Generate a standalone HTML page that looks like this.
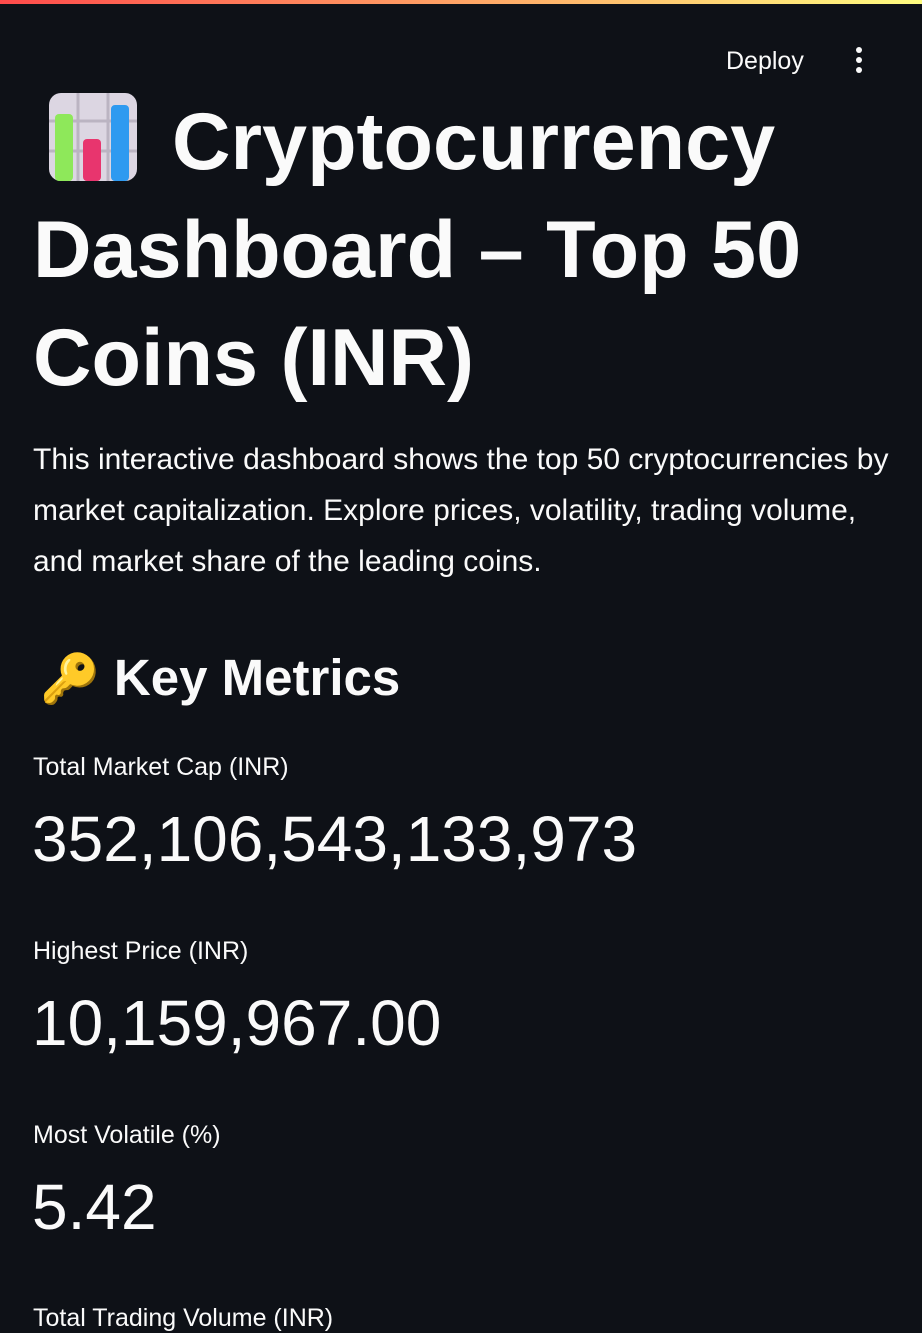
<!DOCTYPE html>
<html><head><meta charset="utf-8"><style>
body{margin:0;width:922px;height:1310px;overflow:hidden;background:#0e1117;color:#fafafa;font-family:"Liberation Sans",sans-serif;position:relative}
.a{position:absolute;white-space:nowrap}
</style></head><body>
<div class="a" style="left:0;top:0;width:922px;height:4px;background:linear-gradient(90deg,#ff4b4b,#fffd80)"></div>
<div class="a" style="left:726px;top:47px;font-size:25px;">Deploy</div>
<div class="a" style="left:856px;top:47px;width:8px;">
<div style="width:6px;height:6px;border-radius:50%;background:#fafafa;margin:0 0 4px"></div>
<div style="width:6px;height:6px;border-radius:50%;background:#fafafa;margin:0 0 4px"></div>
<div style="width:6px;height:6px;border-radius:50%;background:#fafafa"></div></div>
<svg class="a" style="left:49px;top:93px" width="88" height="88" viewBox="0 0 88 88">
<rect x="0" y="0" width="88" height="88" rx="12" fill="#dcd6e2"/>
<line x1="0" y1="28" x2="88" y2="28" stroke="#bbb4c2" stroke-width="3"/><line x1="0" y1="58" x2="88" y2="58" stroke="#bbb4c2" stroke-width="3"/>
<line x1="29" y1="0" x2="29" y2="88" stroke="#bbb4c2" stroke-width="3"/><line x1="59" y1="0" x2="59" y2="88" stroke="#bbb4c2" stroke-width="3"/>
<rect x="6" y="21" width="18" height="67" rx="4" fill="#8ee85a"/><rect x="34" y="46" width="18" height="42" rx="4" fill="#e8356e"/><rect x="62" y="12" width="18" height="76" rx="4" fill="#2e9af0"/></svg>
<div style="position:absolute;left:33px;top:88px;font-size:81px;font-weight:bold;line-height:108px;">
<div style="padding-left:139px">Cryptocurrency</div><div>Dashboard – Top 50</div><div>Coins (INR)</div></div>
<div style="position:absolute;left:33px;top:434px;font-size:30px;line-height:51px;white-space:nowrap;">
This interactive dashboard shows the top 50 cryptocurrencies by<br>market capitalization. Explore prices, volatility, trading volume,<br>and market share of the leading coins.</div>
<div class="a" style="left:40px;top:648px;font-size:51px;font-weight:bold;"><span style="font-size:48px">🔑</span> Key Metrics</div>
<div class="a" style="left:33px;top:753px;font-size:25px">Total Market Cap (INR)</div>
<div class="a" style="left:32px;top:802px;font-size:64px">352,106,543,133,973</div>
<div class="a" style="left:33px;top:937px;font-size:25px">Highest Price (INR)</div>
<div class="a" style="left:32px;top:986px;font-size:64px">10,159,967.00</div>
<div class="a" style="left:33px;top:1121px;font-size:25px">Most Volatile (%)</div>
<div class="a" style="left:32px;top:1170px;font-size:64px">5.42</div>
<div class="a" style="left:33px;top:1304px;font-size:25px">Total Trading Volume (INR)</div>
</body></html>
